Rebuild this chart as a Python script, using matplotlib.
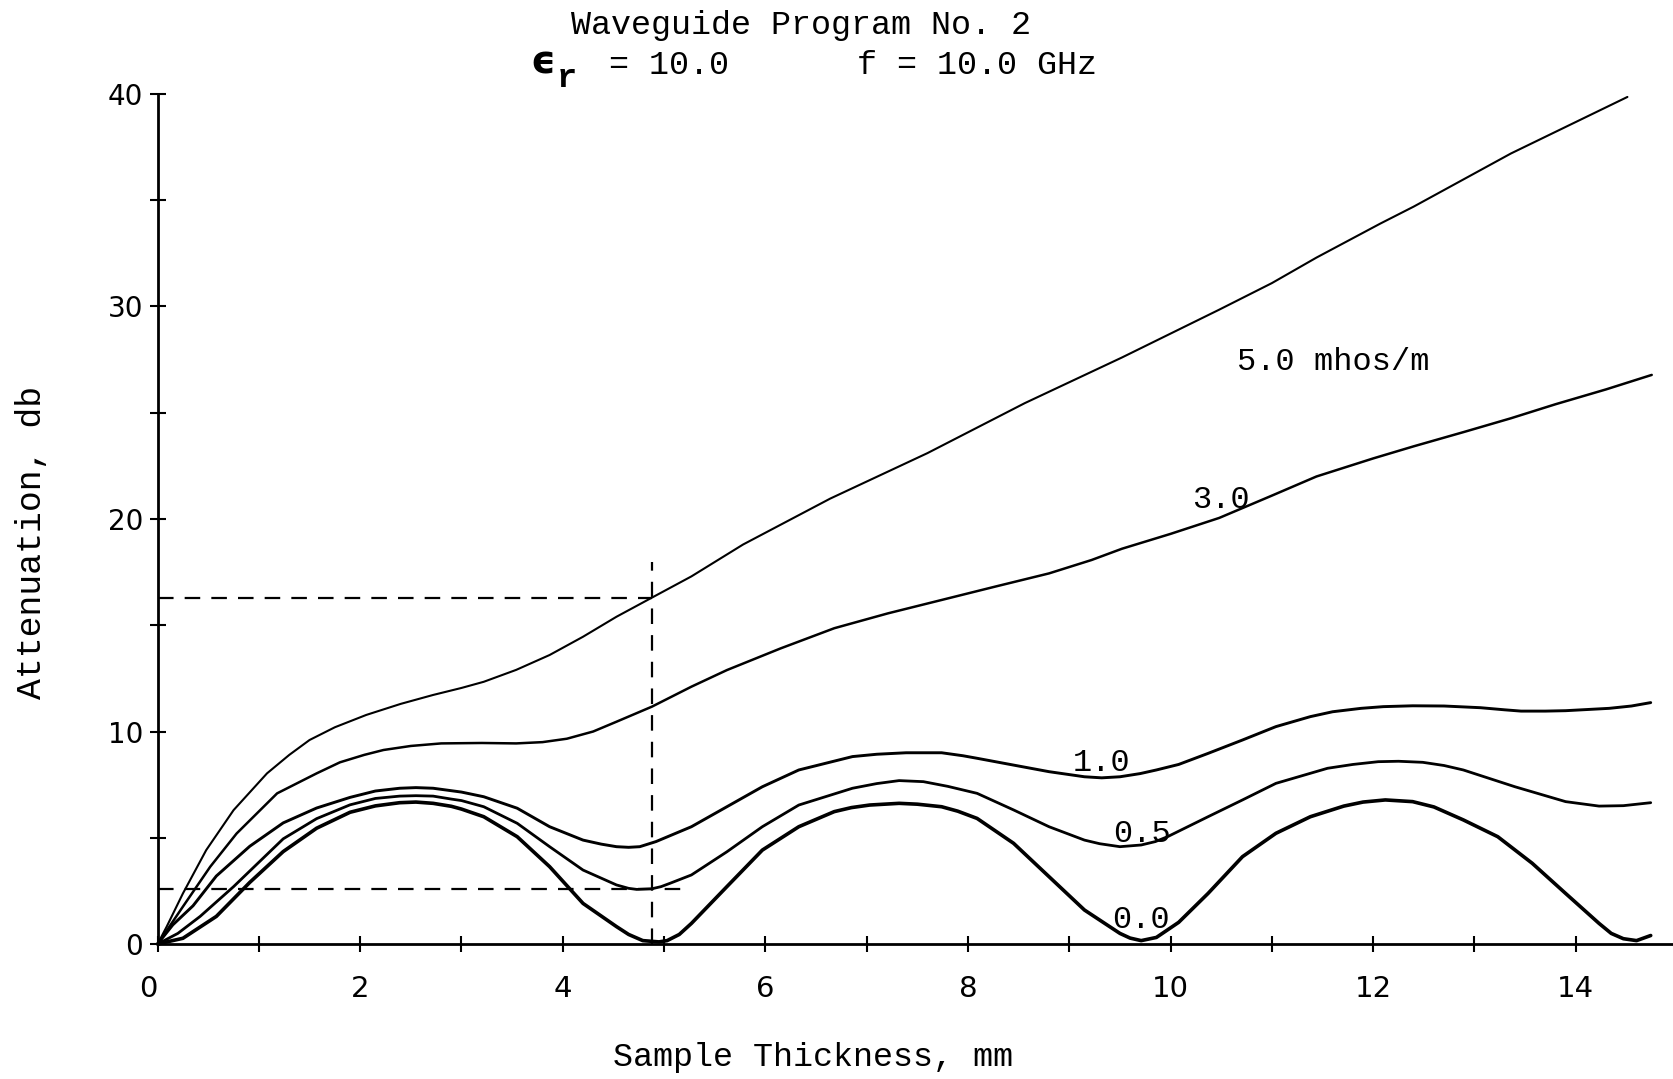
"""
Attenuation vs. sample thickness for the waveguide program, one curve per
conductivity value (eps_r = 10, f = 10 GHz).
"""

import matplotlib
matplotlib.use("Agg")
import matplotlib.pyplot as plt

TYPE_FONT = "Liberation Mono"
TICK_FONT = "DejaVu Sans"

# sigma = 0.0 mhos/m
thick_00 = [0, 0.25, 0.58, 0.91, 1.24, 1.57, 1.90, 2.15, 2.39, 2.55, 2.72, 2.9,
            3.0, 3.22, 3.55, 3.87, 4.20, 4.53, 4.65, 4.79, 4.95, 5.03, 5.15,
            5.27, 5.62, 5.97, 6.33, 6.68, 6.85, 7.03, 7.32, 7.5, 7.74, 7.9,
            8.09, 8.45, 8.80, 9.15, 9.50, 9.6, 9.71, 9.86, 9.95, 10.08, 10.37,
            10.71, 11.04, 11.38, 11.71, 11.9, 12.12, 12.39, 12.6, 12.89, 13.23,
            13.57, 13.90, 14.23, 14.35, 14.47, 14.60, 14.74]
atten_00 = [0, 0.27, 1.30, 2.90, 4.35, 5.45, 6.20, 6.50, 6.65, 6.68, 6.62, 6.48,
            6.35, 5.99, 5.05, 3.64, 1.91, 0.82, 0.45, 0.16, 0.10, 0.16, 0.45,
            0.97, 2.70, 4.42, 5.52, 6.23, 6.42, 6.54, 6.62, 6.58, 6.46, 6.25,
            5.91, 4.74, 3.17, 1.60, 0.50, 0.28, 0.16, 0.31, 0.60, 1.02, 2.38,
            4.11, 5.21, 5.99, 6.49, 6.68, 6.78, 6.70, 6.45, 5.84, 5.05,
            3.80, 2.38, 0.97, 0.50, 0.25, 0.16, 0.40]

# sigma = 0.5
thick_05 = [0, 0.2, 0.42, 0.75, 1.24, 1.57, 1.90, 2.15, 2.39, 2.55, 2.72, 2.9,
            3.0, 3.22, 3.55, 3.87, 4.20, 4.53, 4.65, 4.73, 4.88, 4.97, 5.06,
            5.27, 5.62, 5.97, 6.33, 6.86, 7.1, 7.32, 7.56, 7.8, 8.09, 8.45,
            8.80, 9.15, 9.3, 9.50, 9.71, 9.85, 9.97, 10.37, 10.71, 11.04, 11.55,
            11.8, 12.05, 12.25, 12.49, 12.7, 12.89, 13.40, 13.90, 14.23, 14.47,
            14.74]
atten_05 = [0, 0.5, 1.30, 2.70, 4.95, 5.90, 6.55, 6.85, 6.96, 6.98, 6.96, 6.82,
            6.75, 6.46, 5.68, 4.58, 3.48, 2.78, 2.62, 2.57, 2.60, 2.70, 2.86,
            3.25, 4.34, 5.52, 6.54, 7.33, 7.55, 7.69, 7.64, 7.42, 7.09, 6.31,
            5.52, 4.89, 4.72, 4.58, 4.66, 4.82, 5.05, 5.99, 6.78, 7.56, 8.27,
            8.45, 8.58, 8.60, 8.55, 8.40, 8.19, 7.40, 6.70, 6.49, 6.51,
            6.65]

# sigma = 1.0
thick_10 = [0, 0.15, 0.35, 0.58, 0.91, 1.24, 1.57, 1.90, 2.15, 2.39, 2.55, 2.72,
            3.0, 3.22, 3.55, 3.87, 4.20, 4.38, 4.53, 4.65, 4.76, 4.92, 5.27,
            5.62, 5.97, 6.33, 6.86, 7.1, 7.39, 7.74, 7.95, 8.09, 8.45, 8.80,
            9.15, 9.32, 9.50, 9.7, 9.86, 10.08, 10.37, 10.71, 11.04, 11.38,
            11.6, 11.88, 12.1, 12.39, 12.7, 13.06, 13.3, 13.46, 13.7, 13.90,
            14.33, 14.55, 14.74]
atten_10 = [0, 0.9, 1.8, 3.2, 4.6, 5.7, 6.4, 6.9, 7.2, 7.33, 7.36, 7.33,
            7.15, 6.93, 6.39, 5.52, 4.89, 4.7, 4.58, 4.55, 4.58, 4.82, 5.52,
            6.46, 7.40, 8.19, 8.82, 8.93, 9.0, 9.0, 8.86, 8.74, 8.42, 8.11,
            7.87, 7.82, 7.87, 8.02, 8.19, 8.45, 8.97, 9.6, 10.23, 10.70,
            10.93, 11.09, 11.17, 11.21, 11.2, 11.12, 11.02, 10.96, 10.96, 10.98,
            11.09, 11.2, 11.36]

# sigma = 3.0
thick_30 = [0, 0.25, 0.52, 0.78, 1.18, 1.57, 1.8, 2.04, 2.23, 2.5, 2.80, 3.2,
            3.54, 3.8, 4.04, 4.3, 4.53, 4.88, 5.27, 5.62, 6.15, 6.68, 7.21,
            7.74, 8.27, 8.80, 9.22, 9.52, 10.0, 10.48, 11.0, 11.44, 12.0,
            12.40, 12.9, 13.36, 13.8, 14.3, 14.75]
atten_30 = [0, 1.76, 3.64, 5.2, 7.09, 8.03, 8.55, 8.9, 9.13, 9.32, 9.44, 9.46,
            9.44, 9.5, 9.66, 10.0, 10.46, 11.17, 12.11, 12.89, 13.91, 14.86,
            15.56, 16.19, 16.82, 17.44, 18.07, 18.6, 19.3, 20.05, 21.1, 22.0,
            22.85, 23.42, 24.1, 24.74, 25.4, 26.1, 26.78]

# sigma = 5.0
thick_50 = [0, 0.09, 0.25, 0.48, 0.75, 1.08, 1.3, 1.50, 1.75, 2.06, 2.4, 2.72,
            3.0, 3.22, 3.54, 3.87, 4.20, 4.53, 4.88, 5.27, 5.78, 6.64, 7.60,
            8.56, 9.52, 10.48, 11.0, 11.44, 12.07, 12.40, 13.36, 14.51]
atten_50 = [0, 0.82, 2.38, 4.42, 6.3, 8.03, 8.9, 9.6, 10.2, 10.78, 11.3, 11.72,
            12.05, 12.34, 12.9, 13.6, 14.46, 15.4, 16.3, 17.3, 18.8, 20.96,
            23.1, 25.45, 27.6, 29.85, 31.1, 32.3, 33.9, 34.7, 37.2, 39.86]

# readout lines: thickness of the first null and the attenuations read there
read_thick = 4.88
read_atten = [16.3, 2.6]

curve_labels = ["0.0", "0.5", "1.0", "3.0", "5.0 mhos/m"]
label_x = [9.71, 9.72, 9.32, 10.5, 11.61]
label_y = [1.13, 5.2, 8.5, 20.9, 27.4]

fig = plt.figure(figsize=(16.73, 10.79), dpi=100)
ax = fig.add_axes([0.0942, 0.1251, 0.9058, 0.7878])

curves = [
    (thick_00, atten_00, 2.6),
    (thick_05, atten_05, 2.0),
    (thick_10, atten_10, 2.1),
    (thick_30, atten_30, 1.8),
    (thick_50, atten_50, 1.5),
]
for x, y, lw in curves:
    ax.plot(x, y, color="black", lw=lw, solid_joinstyle="round",
            solid_capstyle="round", clip_on=False, zorder=3)

dash = dict(color="black", lw=1.6, dashes=(7, 5), zorder=2)
ax.plot([0, read_thick], [read_atten[0]] * 2, **dash)
ax.plot([0, 5.26], [read_atten[1]] * 2, **dash)
ax.plot([read_thick] * 2, [0, 18.0], **dash)

for text, x, y in zip(curve_labels, label_x, label_y):
    ax.text(x, y, text, ha="center", va="center", fontfamily=TYPE_FONT,
            fontsize=23, zorder=4)

ax.set_xlim(0, 14.96)
ax.set_ylim(0, 40)

for side in ("top", "right"):
    ax.spines[side].set_visible(False)
for side in ("left", "bottom"):
    ax.spines[side].set_linewidth(2.0)

ax.set_xticks(range(15))
ax.set_xticklabels([str(i) if i % 2 == 0 else "" for i in range(15)])
ax.set_yticks(range(0, 41, 5))
ax.set_yticklabels([str(v) if v % 10 == 0 else "" for v in range(0, 41, 5)])
ax.tick_params(direction="inout", length=12, width=1.5, colors="black")
ax.tick_params(axis="x", pad=16, labelsize=21)
ax.tick_params(axis="y", pad=4.5, labelsize=20)
for lab in ax.get_xticklabels() + ax.get_yticklabels():
    lab.set_fontfamily(TICK_FONT)
ax.get_xticklabels()[0].set_horizontalalignment("right")

ax.set_xlabel("Sample Thickness, mm", fontfamily=TYPE_FONT, fontsize=24,
              va="baseline")
ax.xaxis.set_label_coords(0.4325, -0.1435)
ax.set_ylabel("Attenuation, db", fontfamily=TYPE_FONT, fontsize=25,
              va="center")
ax.yaxis.set_label_coords(-0.0829, 0.473)

# title block, typed in two lines; epsilon and its subscript set by hand
fig.text(0.479, 0.9685, "Waveguide Program No. 2", ha="center",
         va="baseline", fontfamily=TYPE_FONT, fontsize=24)
fig.text(0.3168, 0.9318, "\u03f5", ha="left", va="baseline",
         fontfamily="DejaVu Sans", fontweight="bold", fontsize=28)
fig.text(0.3325, 0.9195, "r", ha="left", va="baseline",
         fontfamily=TYPE_FONT, fontweight="bold", fontsize=24)
fig.text(0.364, 0.9318, "= 10.0", ha="left", va="baseline",
         fontfamily=TYPE_FONT, fontsize=24)
fig.text(0.512, 0.9318, "f = 10.0 GHz", ha="left", va="baseline",
         fontfamily=TYPE_FONT, fontsize=24)

fig.savefig("out.png", dpi=100, facecolor="white")
